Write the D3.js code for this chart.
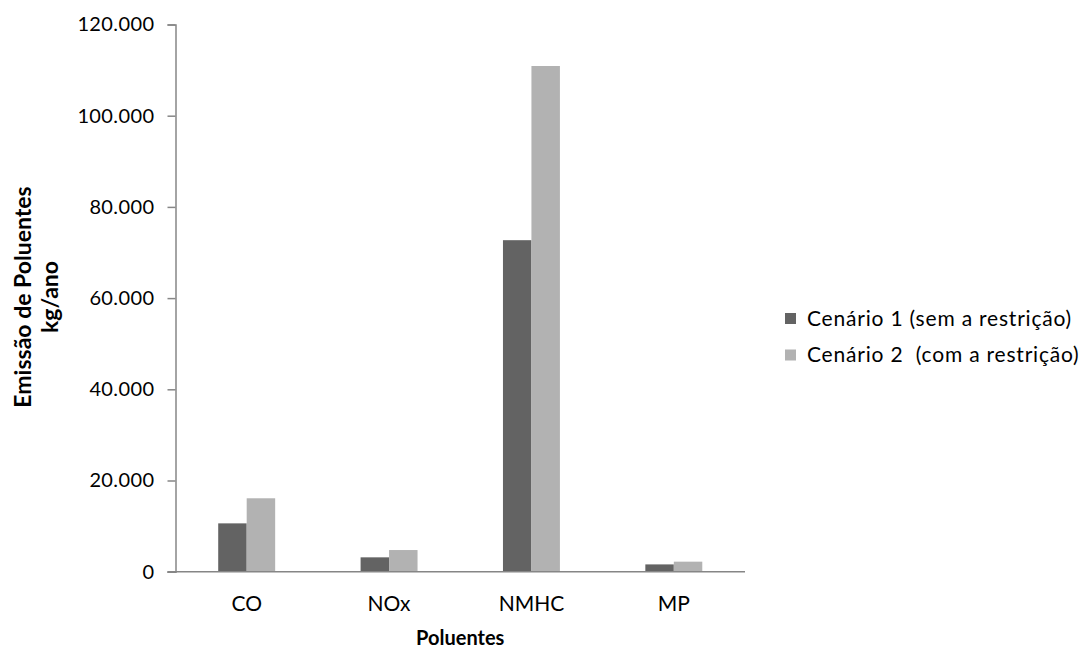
<!DOCTYPE html>
<html>
<head>
<meta charset="utf-8">
<script src="https://cdn.jsdelivr.net/npm/d3@7"></script>
<style>
  html, body { margin: 0; padding: 0; background: #fff; }
  svg { display: block; font-family: Lato, "Open Sans", sans-serif; }
  text { white-space: pre; }
</style>
</head>
<body>
<svg id="chart" width="1085" height="650"></svg>
<script>
const categories = ["CO", "NOx", "NMHC", "MP"];
const seriesNames = ["Cenário 1 (sem a restrição)", "Cenário 2  (com a restrição)"];
const cenario1 = [10600, 3150, 72700, 1600];
const cenario2 = [16100, 4750, 110900, 2200];
const yTicks = [0, 20000, 40000, 60000, 80000, 100000, 120000];
const colors = ["#636363", "#b2b2b2"];

const svg = d3.select("#chart");
const plotLeft = 175.5, plotRight = 745, plotTop = 24.5, plotBottom = 571.7;

const x = d3.scaleBand().domain(categories).range([plotLeft, plotRight]).padding(0);
const groupFrac = 0.4;
const xs = d3.scaleBand().domain([0, 1])
  .range([0, x.bandwidth() * groupFrac]);
const y = d3.scaleLinear().domain([0, 120000]).range([plotBottom, plotTop]);

const loc = d3.formatLocale({ decimal: ",", thousands: ".", grouping: [3], currency: ["", ""] });
const fmt = loc.format(",");

// Bars
const data = [cenario1, cenario2];
data.forEach((vals, si) => {
  svg.append("g").selectAll("rect").data(vals).join("rect")
    .attr("x", (d, i) => x(categories[i]) + x.bandwidth() * (1 - groupFrac) / 2 + xs(si))
    .attr("y", d => y(d))
    .attr("width", xs.bandwidth())
    .attr("height", d => y(0) - y(d))
    .attr("fill", colors[si]);
});

// Y axis
const yAxis = svg.append("g")
  .attr("transform", `translate(${plotLeft},0)`)
  .call(d3.axisLeft(y).tickValues(yTicks).tickFormat(fmt).tickSize(8).tickPadding(13));
yAxis.select(".domain").attr("stroke", "#868686").attr("stroke-width", 1.5);
yAxis.selectAll(".tick line").attr("stroke", "#868686").attr("stroke-width", 1.5);
yAxis.selectAll(".tick text").attr("font-size", 20).attr("letter-spacing", 0.4)
  .attr("fill", "#000").attr("font-family", "Lato, sans-serif");

// X axis
const xAxis = svg.append("g")
  .attr("transform", `translate(0,${plotBottom})`)
  .call(d3.axisBottom(x).tickSize(0).tickPadding(24));
xAxis.select(".domain").attr("stroke", "#868686").attr("stroke-width", 1.5)
  .attr("d", `M${plotLeft - 8},0H${plotRight}`);
xAxis.selectAll(".tick text").attr("font-size", 21).attr("fill", "#000")
  .attr("font-family", "Lato, sans-serif");

// Axis titles
svg.append("text")
  .attr("x", (plotLeft + plotRight) / 2).attr("y", 645)
  .attr("text-anchor", "middle").attr("font-weight", "bold").attr("font-size", 20)
  .text("Poluentes");

const yt = svg.append("text")
  .attr("transform", "translate(0,297) rotate(-90)")
  .attr("text-anchor", "middle").attr("font-weight", "bold").attr("font-size", 23);
yt.append("tspan").attr("x", 0).attr("y", 31).text("Emissão de Poluentes");
yt.append("tspan").attr("x", 0).attr("y", 58).text("kg/ano");

// Legend
const legend = svg.append("g");
seriesNames.forEach((name, i) => {
  const cy = 318.5 + i * 36.5;
  legend.append("rect").attr("x", 785).attr("y", cy - 5.5).attr("width", 11).attr("height", 11)
    .attr("fill", colors[i]);
  legend.append("text").attr("x", 807).attr("y", cy).attr("dy", "0.35em")
    .attr("font-size", 21).attr("letter-spacing", 0.8).attr("fill", "#000").text(name);
});
</script>
</body>
</html>
